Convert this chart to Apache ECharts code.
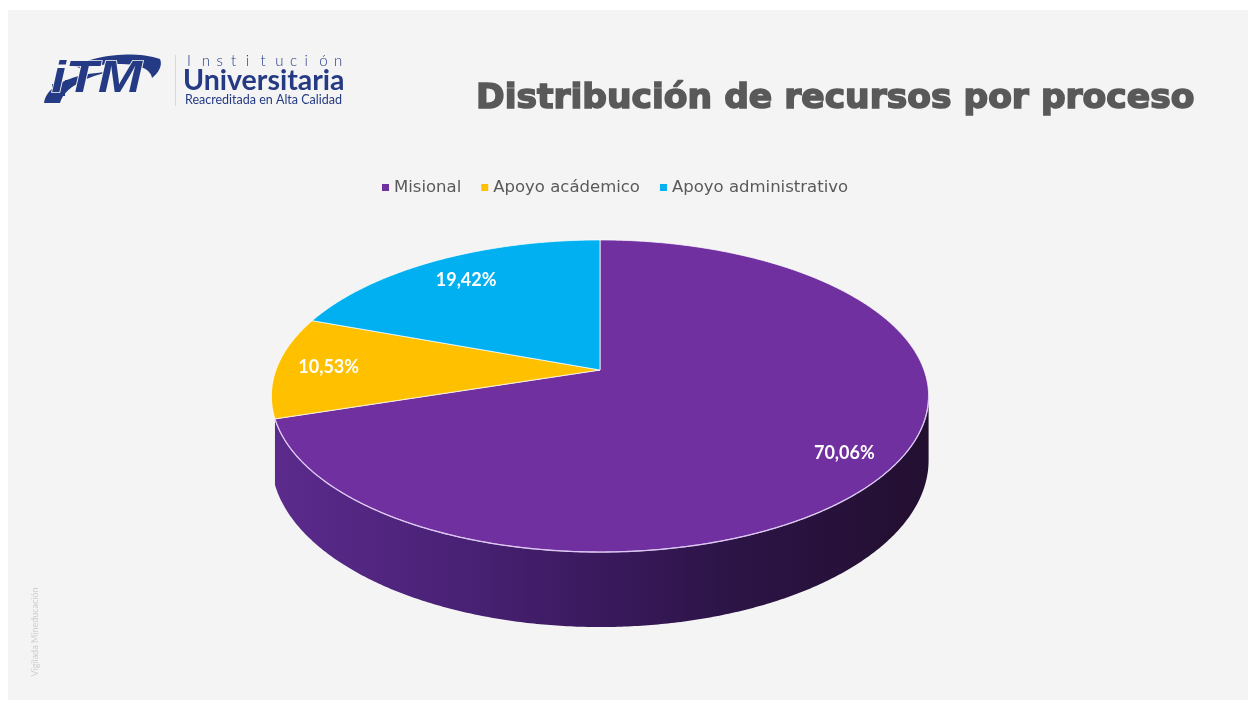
<!DOCTYPE html>
<html>
<head>
<meta charset="utf-8">
<script src="https://cdn.jsdelivr.net/npm/echarts@6/dist/echarts.min.js"></script>
<style>
html,body{margin:0;padding:0;background:#ffffff;}
#chart{width:1248px;height:704px;}
</style>
</head>
<body>
<div id="chart"></div>
<script>
// ---- data ----
const categories = ['Misional', 'Apoyo acádemico', 'Apoyo administrativo'];
const values = [70.06, 10.53, 19.42];
const titleText = 'Distribución de recursos por proceso';

// ---- style ----
const colors = ['#7030A0', '#FFC000', '#00B0F0'];
const labelRadius = [0.855, 0.84, 0.80];
const NAVY = '#253a84';
// perspective pie geometry
const P = { cx: 600, cy: 370, R: 324, H: 151.7, k: 1 / 6, d0: 62.5 };

function proj(t, r) {
  const xd = r * Math.sin(t), yd = -r * Math.cos(t);
  const D = 1 - P.k * yd;
  return [P.cx + P.R * xd / D, P.cy + P.H * yd / D, D];
}
function arcPts(a0, a1) {
  const n = Math.max(2, Math.ceil((a1 - a0) / (Math.PI / 360)));
  const pts = [];
  for (let j = 0; j <= n; j++) pts.push(proj(a0 + (a1 - a0) * j / n, 1));
  return pts;
}
const total = values.reduce((a, b) => a + b, 0);
const sideGrad = {
  type: 'linear', x: 271, y: 0, x2: 930, y2: 0, global: true,
  colorStops: [
    { offset: 0, color: '#5c2b8d' },
    { offset: 0.3, color: '#482174' },
    { offset: 0.5, color: '#3a195d' },
    { offset: 0.7, color: '#2c1446' },
    { offset: 1, color: '#230f30' }
  ]
};

function makeRender(i) {
  return function (params, api) {
    const v = api.value(0);
    let before = 0;
    for (let j = 0; j < i; j++) before += values[j];
    const a0 = before / total * Math.PI * 2;
    const a1 = (before + v) / total * Math.PI * 2;
    const children = [];
    // side (front, visible part of the rim)
    const va = Math.acos(-P.k), vb = Math.PI * 2 - va;
    const s = Math.max(a0, va), e = Math.min(a1, vb);
    const hasSide = (e - s) > 0.2;
    if (hasSide) {
      const top = arcPts(s, e);
      const bottom = top.slice().reverse().map(p => [p[0], p[1] + P.d0 / p[2]]);
      const pts = top.map(p => [p[0], p[1]]).concat(bottom);
      children.push({
        type: 'polygon', shape: { points: pts },
        style: { fill: sideGrad, stroke: null }
      });
    }
    // top face
    const tpts = [[P.cx, P.cy]].concat(arcPts(a0, a1).map(p => [p[0], p[1]]));
    children.push({
      type: 'polygon', shape: { points: tpts },
      style: { fill: colors[i], stroke: 'rgba(255,255,255,0.75)', lineWidth: 1, lineJoin: 'round' }
    });
    if (hasSide) {
      children.push({
        type: 'polyline', shape: { points: arcPts(s, e).map(p => [p[0], p[1]]) },
        style: { stroke: 'rgba(222,200,245,0.9)', lineWidth: 1.3, fill: null }
      });
    }
    // label
    const mid = (a0 + a1) / 2;
    const lp = proj(mid, labelRadius[i]);
    children.push({
      type: 'text', x: lp[0], y: lp[1],
      style: {
        text: v.toFixed(2).replace('.', ',') + '%',
        fill: '#ffffff', font: 'bold 18px Lato',
        align: 'center', verticalAlign: 'middle'
      }
    });
    return { type: 'group', children: children };
  };
}

// ---- logo graphics ----
function bez(p0, p1, p2, p3, n) {
  const out = [];
  for (let j = 0; j <= n; j++) {
    const t = j / n, u = 1 - t;
    out.push([
      u * u * u * p0[0] + 3 * u * u * t * p1[0] + 3 * u * t * t * p2[0] + t * t * t * p3[0],
      u * u * u * p0[1] + 3 * u * u * t * p1[1] + 3 * u * t * t * p2[1] + t * t * t * p3[1]
    ]);
  }
  return out;
}
const logo = [];
// swoosh (lower crescent and upper arc)
logo.push({ type: 'polygon', shape: { points: bez([44, 103], [46, 86], [70, 74], [108, 72], 20).concat(bez([108, 72], [84, 78], [64, 88], [60, 103], 20)) }, style: { fill: NAVY } });
logo.push({ type: 'polygon', shape: { points: bez([74, 66], [98, 54], [138, 51], [160, 59], 20).concat(bez([160, 59], [163, 66], [158, 73], [152, 78], 8)).concat(bez([152, 78], [150, 66], [130, 59], [80, 68], 20)) }, style: { fill: NAVY } });
// pixel squares
[[58, 78, 4], [52, 84, 4], [60, 86, 4], [55, 91, 3], [62, 93, 3], [65, 80, 3]].forEach(q => {
  logo.push({ type: 'rect', shape: { x: q[0], y: q[1], width: q[2], height: q[2] }, style: { fill: NAVY } });
});
logo.push({
  type: 'text', x: 64, y: 80, scaleX: 1.2, originX: 64, originY: 80,
  style: { text: 'iTM', font: 'italic 900 44px "Liberation Sans"', fill: NAVY, stroke: '#f4f4f4', lineWidth: 1.5, align: 'left', verticalAlign: 'middle' }
});
logo.push({ type: 'rect', shape: { x: 175, y: 55, width: 1, height: 51 }, style: { fill: '#d9d9d9' } });
// "Institución" with wide tracking
'Institución'.split('').forEach((ch, idx) => {
  logo.push({ type: 'text', x: 187 + idx * 14.7, y: 61, style: { text: ch, font: '300 15px Lato', fill: NAVY, align: 'left', verticalAlign: 'middle' } });
});
logo.push({ type: 'text', x: 183, y: 81, style: { text: 'Universitaria', font: 'bold 28.5px Lato', fill: NAVY, align: 'left', verticalAlign: 'middle' } });
logo.push({ type: 'text', x: 185, y: 100, style: { text: 'Reacreditada en Alta Calidad', font: '12.5px Lato', fill: NAVY, align: 'left', verticalAlign: 'middle' } });

const chart = echarts.init(document.getElementById('chart'), null, { renderer: 'canvas' });
chart.setOption({
  backgroundColor: '#f4f4f4',
  animation: false,
  legend: {
    data: categories,
    top: 174,
    left: 377,
    icon: 'rect',
    itemWidth: 7,
    itemHeight: 7,
    itemGap: 20,
    textStyle: { fontFamily: 'DejaVu Sans', fontSize: 16.5, color: '#595959' }
  },
  graphic: [
    { type: 'rect', shape: { x: 0, y: 0, width: 8, height: 704 }, style: { fill: '#ffffff' }, silent: true },
    { type: 'rect', shape: { x: 0, y: 0, width: 1248, height: 10 }, style: { fill: '#ffffff' }, silent: true },
    { type: 'rect', shape: { x: 0, y: 700, width: 1248, height: 4 }, style: { fill: '#ffffff' }, silent: true },
    {
      type: 'text', x: 476, y: 99,
      style: { text: titleText, font: 'bold 34.5px "DejaVu Sans"', fill: '#595959', stroke: '#595959', lineWidth: 1.6, align: 'left', verticalAlign: 'middle' }
    },
    {
      type: 'text', x: 35, y: 632, rotation: Math.PI / 2,
      style: { text: 'Vigilada Mineducación', font: '9px Lato', fill: '#cfcfcf', align: 'center', verticalAlign: 'middle' }
    }
  ].concat(logo),
  series: categories.map((name, i) => ({
    type: 'custom',
    name: name,
    coordinateSystem: 'none',
    itemStyle: { color: colors[i] },
    data: [[values[i]]],
    renderItem: makeRender(i),
    z: 2 + i
  }))
});
</script>
</body>
</html>
